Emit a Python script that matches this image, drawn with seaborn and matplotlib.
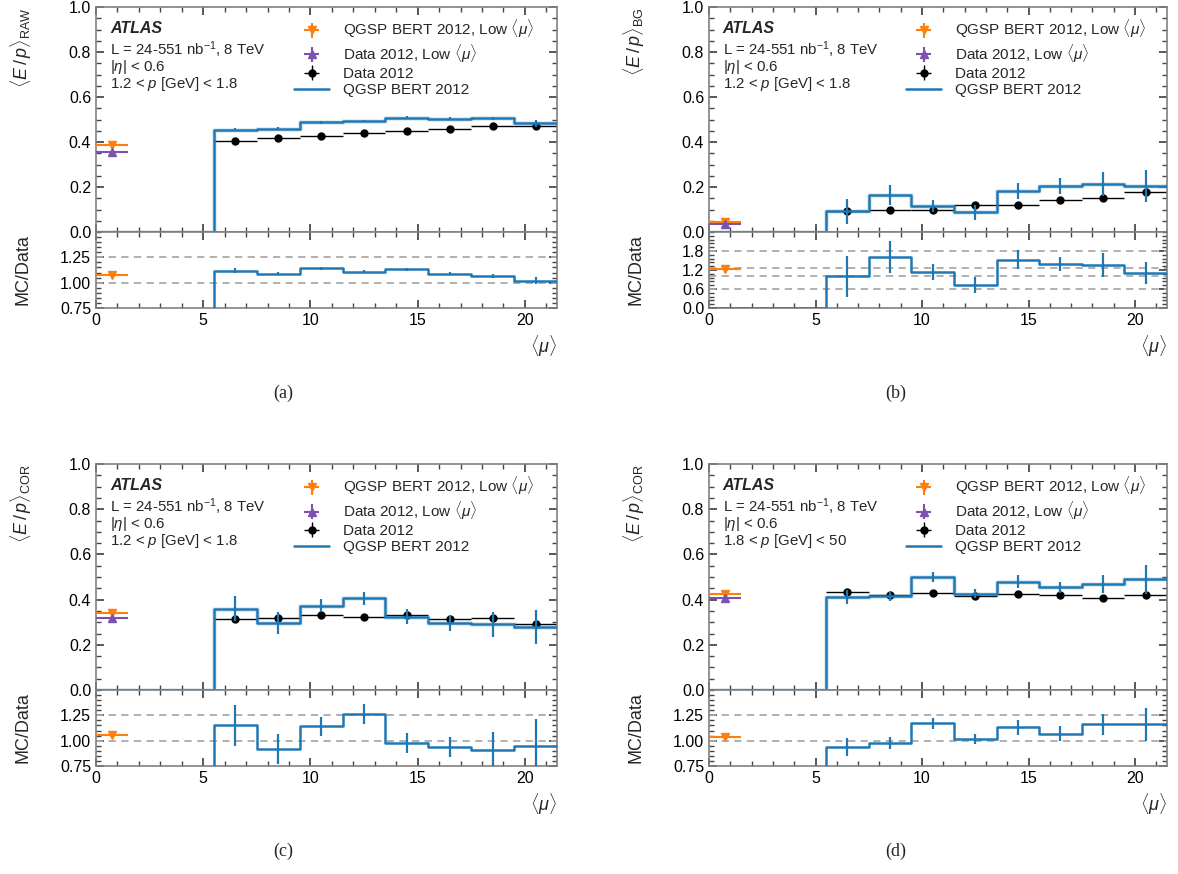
import numpy as np
import pandas as pd
import matplotlib
matplotlib.use("Agg")
import matplotlib.pyplot as plt
import seaborn as sns
from matplotlib.ticker import MultipleLocator, FixedLocator, FuncFormatter

# ---------------- data ----------------
mu_centers = [6.5, 8.5, 10.5, 12.5, 14.5, 16.5, 18.5, 20.5]
mu_edges = [0.0, 5.5, 7.5, 9.5, 11.5, 13.5, 15.5, 17.5, 19.5, 21.5]
low_mu_x = 0.75

# (a) <E/p>_RAW, 1.2 < p < 1.8
raw_low_mc = 0.385
raw_low_data = 0.355
raw_data = [0.405, 0.418, 0.427, 0.440, 0.450, 0.460, 0.470, 0.472]
raw_mc = [0.455, 0.460, 0.487, 0.492, 0.508, 0.503, 0.505, 0.483]
raw_mc_err = [0.006, 0.005, 0.005, 0.005, 0.006, 0.006, 0.008, 0.016]
raw_low_ratio = 1.08
raw_ratio = [1.12, 1.09, 1.14, 1.11, 1.13, 1.09, 1.07, 1.02]
raw_ratio_err = [0.02, 0.015, 0.015, 0.015, 0.015, 0.015, 0.02, 0.035]

# (b) <E/p>_BG, 1.2 < p < 1.8
bg_low_mc = 0.045
bg_low_data = 0.035
bg_data = [0.092, 0.100, 0.098, 0.118, 0.118, 0.143, 0.153, 0.180]
bg_mc = [0.092, 0.163, 0.115, 0.088, 0.183, 0.205, 0.213, 0.205]
bg_mc_err = [0.055, 0.045, 0.028, 0.033, 0.035, 0.035, 0.055, 0.070]
bg_low_ratio = 1.22
bg_ratio = [1.00, 1.62, 1.13, 0.72, 1.52, 1.38, 1.35, 1.10]
bg_ratio_err = [0.65, 0.50, 0.25, 0.25, 0.30, 0.22, 0.38, 0.35]

# (c) <E/p>_COR, 1.2 < p < 1.8
cor1_low_mc = 0.340
cor1_low_data = 0.320
cor1_data = [0.313, 0.320, 0.330, 0.322, 0.332, 0.315, 0.317, 0.290]
cor1_mc = [0.360, 0.295, 0.373, 0.405, 0.325, 0.298, 0.290, 0.277]
cor1_mc_err = [0.055, 0.048, 0.030, 0.030, 0.035, 0.035, 0.055, 0.075]
cor1_low_ratio = 1.06
cor1_ratio = [1.15, 0.92, 1.14, 1.26, 0.98, 0.94, 0.91, 0.95]
cor1_ratio_err = [0.20, 0.15, 0.09, 0.10, 0.10, 0.10, 0.18, 0.26]

# (d) <E/p>_COR, 1.8 < p < 50
cor2_low_mc = 0.425
cor2_low_data = 0.405
cor2_data = [0.432, 0.420, 0.427, 0.415, 0.423, 0.422, 0.405, 0.422]
cor2_mc = [0.412, 0.415, 0.500, 0.425, 0.480, 0.455, 0.467, 0.490]
cor2_mc_err = [0.030, 0.020, 0.020, 0.020, 0.030, 0.025, 0.040, 0.065]
cor2_low_ratio = 1.04
cor2_ratio = [0.94, 0.98, 1.17, 1.02, 1.13, 1.07, 1.16, 1.16]
cor2_ratio_err = [0.09, 0.06, 0.05, 0.05, 0.07, 0.07, 0.10, 0.16]

panel_ylabels = [r"$\langle \mathit{E}\,/\,\mathit{p}\rangle_{\mathrm{RAW}}$",
                 r"$\langle \mathit{E}\,/\,\mathit{p}\rangle_{\mathrm{BG}}$",
                 r"$\langle \mathit{E}\,/\,\mathit{p}\rangle_{\mathrm{COR}}$",
                 r"$\langle \mathit{E}\,/\,\mathit{p}\rangle_{\mathrm{COR}}$"]
panel_pranges = [r"1.2 < $\mathit{p}$ [GeV] < 1.8",
                 r"1.2 < $\mathit{p}$ [GeV] < 1.8",
                 r"1.2 < $\mathit{p}$ [GeV] < 1.8",
                 r"1.8 < $\mathit{p}$ [GeV] < 50"]
panel_captions = ["(a)", "(b)", "(c)", "(d)"]
legend_labels = [r"QGSP BERT 2012, Low $\langle\mu\rangle$",
                 r"Data 2012, Low $\langle\mu\rangle$",
                 "Data 2012", "QGSP BERT 2012"]

# ---------------- style ----------------
sns.set_theme(style="ticks")
plt.rcParams.update({
    "font.family": ["Liberation Sans", "DejaVu Sans"],
    "mathtext.fontset": "custom",
    "mathtext.rm": "Liberation Sans",
    "mathtext.it": "Liberation Sans:italic",
    "mathtext.bf": "Liberation Sans:bold",
    "axes.edgecolor": "#808080",
    "axes.linewidth": 1.2,
    "xtick.direction": "in", "ytick.direction": "in",
    "xtick.top": True, "ytick.right": True,
    "xtick.major.size": 6, "ytick.major.size": 6,
    "xtick.minor.size": 3.5, "ytick.minor.size": 3.5,
    "xtick.minor.visible": True, "ytick.minor.visible": True,
    "xtick.color": "#444444", "ytick.color": "#444444",
    "xtick.labelcolor": "black", "ytick.labelcolor": "black",
    "xtick.labelsize": 11.5, "ytick.labelsize": 11.5,
})

BLUE = "#1f77b4"
ORANGE = "#ff7f0e"
PURPLE = "#7b52ae"

fig = plt.figure(figsize=(11.78, 8.74), dpi=100)
W, H = 1178.0, 874.0

lefts_px = [96, 709]
widths_px = [461, 458]
rows_px = [(7, 232, 308), (464, 690, 766)]

panels = [
    (raw_low_mc, raw_low_data, raw_data, raw_mc, raw_mc_err, raw_low_ratio, raw_ratio, raw_ratio_err),
    (bg_low_mc, bg_low_data, bg_data, bg_mc, bg_mc_err, bg_low_ratio, bg_ratio, bg_ratio_err),
    (cor1_low_mc, cor1_low_data, cor1_data, cor1_mc, cor1_mc_err, cor1_low_ratio, cor1_ratio, cor1_ratio_err),
    (cor2_low_mc, cor2_low_data, cor2_data, cor2_mc, cor2_mc_err, cor2_low_ratio, cor2_ratio, cor2_ratio_err),
]


def step_line(ax, values, lw, alpha=1.0):
    df = pd.DataFrame({"x": mu_edges, "y": [0.0] + list(values) + [values[-1]]})
    sns.lineplot(data=df, x="x", y="y", ax=ax, drawstyle="steps-post", color=BLUE,
                 lw=lw, alpha=alpha, estimator=None, sort=False, zorder=3)


for i, p in enumerate(panels):
    low_mc, low_data, data, mc, mc_err, low_ratio, ratio, ratio_err = p
    col, row = i % 2, i // 2
    top, mid, bot = rows_px[row]
    left = lefts_px[col] / W
    width = widths_px[col] / W
    ax_m = fig.add_axes([left, 1 - mid / H, width, (mid - top) / H])
    ax_r = fig.add_axes([left, 1 - bot / H, width, (bot - mid) / H], sharex=ax_m)

    # ---- main panel ----
    step_line(ax_m, mc, 3.5, 0.15)
    step_line(ax_m, mc, 1.8)
    h_mc = ax_m.lines[-1]
    ax_m.errorbar(mu_centers, mc, yerr=mc_err, fmt="none", ecolor=BLUE, elinewidth=1.6, zorder=4)
    h_lmc = ax_m.errorbar([low_mu_x], [low_mc], xerr=0.75, yerr=0.01, fmt="v", color=ORANGE,
                          ms=6, elinewidth=1.5, zorder=5)
    h_ldata = ax_m.errorbar([low_mu_x], [low_data], xerr=0.75, yerr=0.008, fmt="^", color=PURPLE,
                            ms=6, elinewidth=1.5, zorder=5)
    h_data = ax_m.errorbar(mu_centers, data, xerr=1.0, yerr=0.004, fmt="o", color="black",
                           ms=5, elinewidth=1.0, zorder=2)

    ax_m.set_xlim(0, 21.5)
    ax_m.set_ylim(0, 1.0)
    ax_m.yaxis.set_major_locator(MultipleLocator(0.2))
    ax_m.yaxis.set_minor_locator(MultipleLocator(0.05))
    ax_m.yaxis.set_major_formatter(FuncFormatter(lambda v, _: f"{v:.1f}"))
    ax_m.xaxis.set_major_locator(MultipleLocator(5))
    ax_m.xaxis.set_minor_locator(MultipleLocator(1))
    ax_m.tick_params(axis="x", labelbottom=False)
    ax_m.set_xlabel("")
    ax_m.set_ylabel(panel_ylabels[i], fontsize=13, loc="top")
    ax_m.yaxis.set_label_coords(-0.135, 1.0)

    ax_m.text(0.03, 0.905, "ATLAS", transform=ax_m.transAxes, fontsize=11.5,
              fontweight="bold", fontstyle="italic", va="center")
    ax_m.text(0.03, 0.812, r"L = 24-551 nb$^{-1}$, 8 TeV", transform=ax_m.transAxes,
              fontsize=10.8, va="center")
    ax_m.text(0.03, 0.733, r"|$\eta$| < 0.6", transform=ax_m.transAxes, fontsize=10.8, va="center")
    ax_m.text(0.03, 0.658, panel_pranges[i], transform=ax_m.transAxes, fontsize=10.8, va="center")

    ax_m.legend([h_lmc, h_ldata, h_data, h_mc], legend_labels, loc="upper left",
                bbox_to_anchor=(0.43, 0.95), borderaxespad=0, borderpad=0, frameon=False,
                fontsize=11, handlelength=2.3, handleheight=0.6, handletextpad=0.9,
                labelspacing=0.14)

    # ---- ratio panel ----
    if i == 1:
        ylo, yhi, major, minor, fmt = 0.0, 2.4, 0.6, 0.12, "{:.1f}"
        dash_levels = [0.6, 1.0, 1.25, 1.8]
    else:
        ylo, yhi, major, minor, fmt = 0.75, 1.5, 0.25, 0.05, "{:.2f}"
        dash_levels = [1.0, 1.25]
    for lv in dash_levels:
        ax_r.axhline(lv, color="#aaaaaa", ls=(0, (4, 3)), lw=1.3, zorder=1)
    step_line(ax_r, ratio, 1.8)
    ax_r.errorbar(mu_centers, ratio, yerr=ratio_err, fmt="none", ecolor=BLUE, elinewidth=1.6, zorder=4)
    ax_r.errorbar([low_mu_x], [low_ratio], xerr=0.75, yerr=0.008, fmt="v", color=ORANGE,
                  ms=6, elinewidth=1.5, zorder=5)
    ax_r.set_ylim(ylo, yhi)
    ax_r.yaxis.set_major_locator(FixedLocator(list(np.arange(ylo, yhi - 1e-6, major))))
    ax_r.yaxis.set_minor_locator(MultipleLocator(minor))
    ax_r.yaxis.set_major_formatter(FuncFormatter(lambda v, _, f=fmt: f.format(v)))
    ax_r.xaxis.set_major_locator(MultipleLocator(5))
    ax_r.xaxis.set_minor_locator(MultipleLocator(1))
    ax_r.set_xlim(0, 21.5)
    ax_r.set_ylabel("MC/Data", fontsize=13)
    ax_r.yaxis.set_label_coords(-0.14, 0.5)
    ax_r.set_xlabel(r"$\langle\mu\rangle$", fontsize=13, loc="right")

    # caption
    fig.text((lefts_px[col] + 187) / W, 1 - (bot + 85) / H, panel_captions[i],
             fontsize=13, family="Liberation Serif", ha="center", va="center")

fig.savefig("out.png", dpi=100)
